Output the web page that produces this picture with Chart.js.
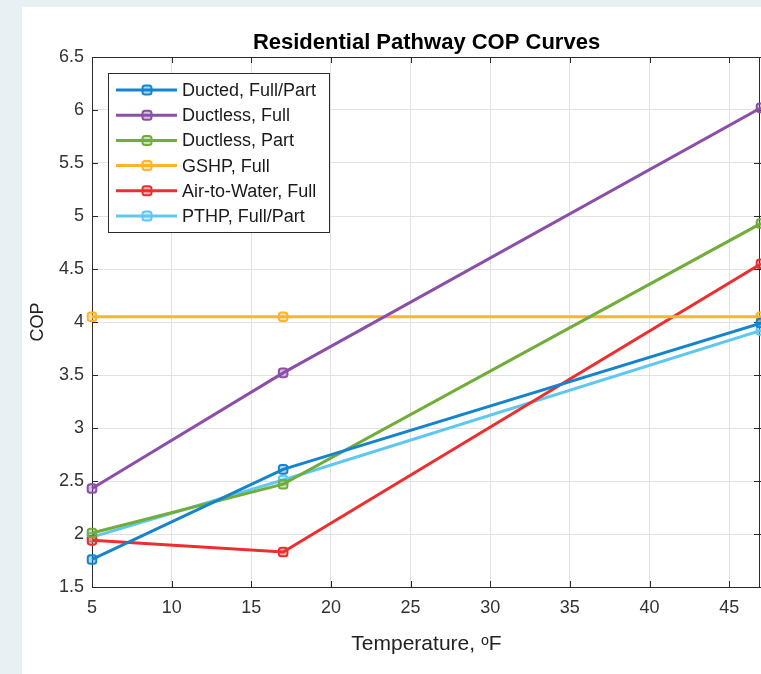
<!DOCTYPE html>
<html>
<head>
<meta charset="utf-8">
<script src="https://cdn.jsdelivr.net/npm/chart.js@4.4.1/dist/chart.umd.min.js"></script>
<style>
    html, body { margin: 0; padding: 0; background: #e9f0f3; overflow: hidden; }
    #panel { position: absolute; left: 22px; top: 7px; width: 739px; height: 667px; background: #fff; }
    canvas { display: block; }
</style>
</head>
<body>
<div id="panel"><canvas id="copCurves" width="739" height="667"></canvas></div>
<script>
// Datos
const temperatures = [5, 17, 47];
const ductedFullPart = [1.76, 2.61, 3.99];
const ductlessFull = [2.43, 3.52, 6.02];
const ductlessPart = [2.01, 2.47, 4.93];
const gshpFull = [4.05, 4.05, 4.05];
const airToWaterFull = [1.94, 1.83, 4.55];
const pthpFullPart = [1.97, 2.51, 3.92];

const seriesNames = ['Ducted, Full/Part', 'Ductless, Full', 'Ductless, Part', 'GSHP, Full', 'Air-to-Water, Full', 'PTHP, Full/Part'];
const seriesValues = [ductedFullPart, ductlessFull, ductlessPart, gshpFull, airToWaterFull, pthpFullPart];
const seriesColors = ['#1684cd', '#8b4fa8', '#72ad3a', '#fbb52b', '#ee2e2e', '#5ec8f2'];

const xTicks = [5, 10, 15, 20, 25, 30, 35, 40, 45];
const yTicks = [1.5, 2, 2.5, 3, 3.5, 4, 4.5, 5, 5.5, 6, 6.5];

const FONT = 'Arial, "Liberation Sans", sans-serif';
const AXIS_COLOR = '#2b2b2b';

// Convertir hex a rgba
function alpha(hex, a) {
    const n = parseInt(hex.slice(1), 16);
    return `rgba(${n >> 16}, ${(n >> 8) & 255}, ${n & 255}, ${a})`;
}

const datasets = seriesNames.map((name, i) => ({
    label: name,
    data: temperatures.map((t, j) => ({ x: t, y: seriesValues[i][j] })),
    borderColor: seriesColors[i],
    backgroundColor: seriesColors[i],
    borderWidth: 3,
    pointStyle: 'rectRounded',
    pointRadius: 5,
    pointBorderWidth: 2,
    pointBackgroundColor: alpha(seriesColors[i], 0.35),
    pointBorderColor: seriesColors[i],
    tension: 0,
    clip: false
}));

// Marco estilo MATLAB: caja, marcas interiores, título y leyenda
const matlabFrame = {
    id: 'matlabFrame',
    beforeDatasetsDraw(chart) {
        const { ctx, chartArea: a, scales } = chart;
        ctx.save();
        ctx.strokeStyle = AXIS_COLOR;
        ctx.lineWidth = 1;
        ctx.beginPath();
        ctx.moveTo(a.left, a.top + 0.5); ctx.lineTo(a.right, a.top + 0.5);
        ctx.moveTo(a.right - 1.5, a.top); ctx.lineTo(a.right - 1.5, a.bottom);
        const len = 6;
        xTicks.forEach(v => {
            const px = Math.round(scales.x.getPixelForValue(v)) + 0.5;
            ctx.moveTo(px, a.bottom); ctx.lineTo(px, a.bottom - len);
            ctx.moveTo(px, a.top); ctx.lineTo(px, a.top + len);
        });
        yTicks.forEach(v => {
            const py = Math.round(scales.y.getPixelForValue(v)) + 0.5;
            ctx.moveTo(a.left, py); ctx.lineTo(a.left + len, py);
            ctx.moveTo(a.right, py); ctx.lineTo(a.right - len - 1, py);
        });
        ctx.stroke();
        ctx.restore();
    },
    afterDraw(chart) {
        const { ctx, chartArea: a } = chart;
        ctx.save();
        // título
        ctx.fillStyle = '#000';
        ctx.font = 'bold 22px ' + FONT;
        ctx.textAlign = 'center';
        ctx.textBaseline = 'middle';
        ctx.fillText('Residential Pathway COP Curves', (a.left + a.right) / 2, 36);

        // leyenda
        const box = { left: 86.5, top: 66.5, right: 307.5, bottom: 225.5 };
        ctx.fillStyle = '#fff';
        ctx.fillRect(box.left, box.top, box.right - box.left, box.bottom - box.top);
        ctx.strokeStyle = AXIS_COLOR;
        ctx.lineWidth = 1;
        ctx.strokeRect(box.left, box.top, box.right - box.left, box.bottom - box.top);
        ctx.font = '18px ' + FONT;
        ctx.textAlign = 'left';
        seriesNames.forEach((name, i) => {
            const y = 83 + i * 25.2;
            const c = seriesColors[i];
            ctx.strokeStyle = c;
            ctx.lineWidth = 3;
            ctx.beginPath();
            ctx.moveTo(94, y); ctx.lineTo(155, y);
            ctx.stroke();
            ctx.lineWidth = 2;
            ctx.fillStyle = alpha(c, 0.35);
            ctx.beginPath();
            ctx.roundRect(125 - 4.5, y - 4.5, 9, 9, 2.5);
            ctx.fill();
            ctx.stroke();
            ctx.fillStyle = '#1a1a1a';
            ctx.fillText(name, 160, y + 1);
        });
        ctx.restore();
    }
};

new Chart(document.getElementById('copCurves').getContext('2d'), {
    type: 'line',
    data: { datasets: datasets },
    options: {
        responsive: false,
        animation: false,
        layout: { autoPadding: false, padding: { top: 50, right: 0, left: 0, bottom: 0 } },
        plugins: {
            legend: { display: false },
            title: { display: false },
            tooltip: { enabled: false }
        },
        scales: {
            x: {
                type: 'linear',
                min: 5,
                max: 47,
                afterFit: s => { s.height = 87; },
                afterBuildTicks: s => { s.ticks = xTicks.map(v => ({ value: v })); },
                grid: { color: '#e2e2e2', drawTicks: false },
                border: { color: AXIS_COLOR, width: 1 },
                ticks: { color: '#333', padding: 10, font: { family: FONT, size: 18 }, maxRotation: 0 },
                title: {
                    display: true,
                    text: 'Temperature, ᵒF',
                    color: '#222',
                    font: { family: FONT, size: 21 },
                    padding: { top: 0, bottom: 17 }
                }
            },
            y: {
                min: 1.5,
                max: 6.5,
                afterFit: s => { s.width = 70; },
                afterBuildTicks: s => { s.ticks = yTicks.map(v => ({ value: v })); },
                grid: { color: '#e2e2e2', drawTicks: false },
                border: { color: AXIS_COLOR, width: 1 },
                ticks: { color: '#333', padding: 8, font: { family: FONT, size: 18 }, callback: v => String(v) },
                title: {
                    display: true,
                    text: 'COP',
                    color: '#222',
                    font: { family: FONT, size: 18 },
                    padding: { top: 5, bottom: 0 }
                }
            }
        }
    },
    plugins: [matlabFrame]
});
</script>
</body>
</html>
